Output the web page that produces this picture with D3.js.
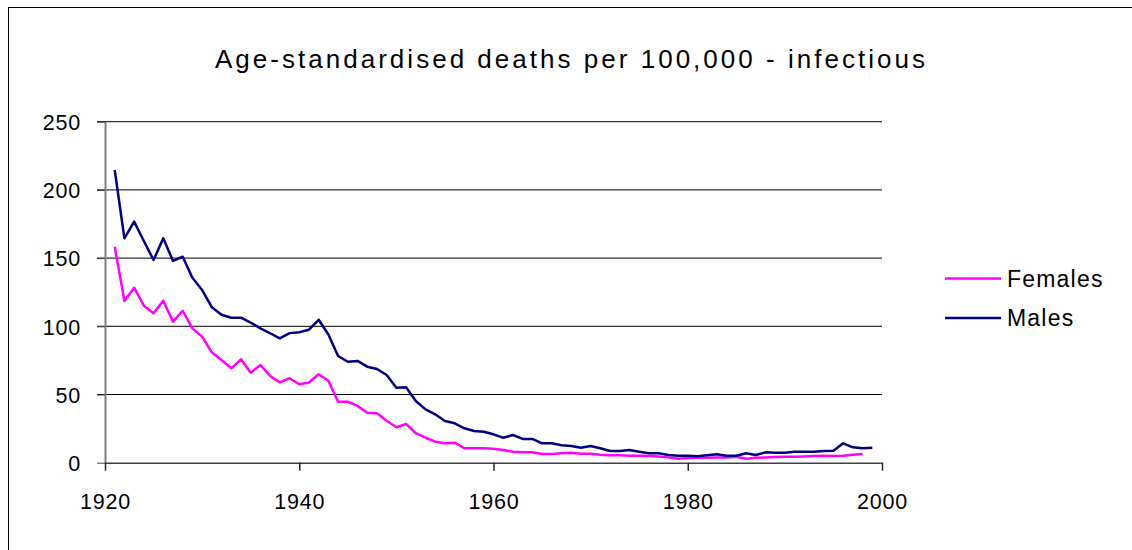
<!DOCTYPE html>
<html>
  <head>
    <title>Age-standardised deaths per 100,000 - infectious</title>
    <meta charset="UTF-8">
    <script src="https://d3js.org/d3.v7.min.js"></script>
  </head>
  <style type="text/css">
    html, body {
      margin: 0px;
      padding: 0px;
      background: #fff;
      overflow: hidden;
    }
    svg {
      display: block;
    }
    svg text {
      font-family: "Liberation Sans", Arial, sans-serif;
      fill: #000;
    }
  </style>
  <body>
    <div id="chart"></div>
    <script>
      // values, one per year
      const maleYears = d3.range(1921, 2000);
      const femaleYears = d3.range(1921, 1999);
      const males = [
        214.6, 164.5, 176.7, 162.5, 148.6, 164.5, 147.9, 151, 135.6, 126.6,
        114, 108.5, 106.3, 106.3, 102.7, 98.5, 94.9, 91.2, 95, 95.7,
        97.5, 104.8, 94, 78.2, 74, 74.6, 70.4, 68.7, 64.3, 55,
        55.3, 45.2, 39.1, 35.5, 30.6, 28.9, 25.2, 23.2, 22.7, 20.8,
        18.3, 20.3, 17.4, 17.4, 14.2, 14.2, 12.8, 12.2, 11, 12.2,
        10.6, 8.6, 8.6, 9.3, 8.1, 6.9, 6.9, 5.6, 5.1, 5.1,
        4.7, 5.4, 6.2, 5.1, 5.1, 6.9, 5.6, 7.6, 7.3, 7.3,
        8.1, 8.1, 8.1, 8.6, 8.8, 14.2, 11.3, 10.6, 11
      ];
      const females = [
        158.4, 118.5, 128.3, 115.1, 109.5, 118.8, 103.4, 111.4, 98.5, 92.4,
        80.9, 75.3, 69.2, 75.8, 66, 71.6, 63.6, 58.9, 61.9, 57.5,
        58.8, 64.8, 60.1, 44.7, 44.7, 41.6, 36.7, 36.2, 30.8, 26,
        28.4, 21.6, 18.3, 15.4, 14.2, 14.7, 10.6, 10.6, 10.6, 10.3,
        9.3, 8.1, 7.6, 7.6, 6.4, 6.4, 6.9, 7.3, 6.6, 6.6,
        5.9, 5.4, 5.4, 5.1, 5.1, 4.9, 4.6, 3.9, 2.9, 3.4,
        3.7, 3.7, 3.9, 3.9, 4.4, 2.9, 3.7, 3.9, 4.2, 4.4,
        4.4, 4.6, 4.9, 5.1, 4.9, 5.1, 5.9, 6.4
      ];
      const xTicks = [1920, 1940, 1960, 1980, 2000];
      const yTicks = [0, 50, 100, 150, 200, 250];
      const seriesNames = ['Females', 'Males'];
      const seriesColors = ['#ff00ff', '#000080'];

      const width = 1132, height = 550;
      const margin = { top: 121.7, right: 250, bottom: 87.3, left: 105 };

      const svg = d3.select('#chart').append('svg')
        .attr('width', width)
        .attr('height', height);

      // outer frame (only left and top edges show in the window)
      svg.append('rect')
        .attr('x', 8.5).attr('y', 7.5)
        .attr('width', 1300).attr('height', 700)
        .attr('fill', 'none')
        .attr('stroke', '#000');

      svg.append('text')
        .attr('x', 570)
        .attr('y', 68)
        .attr('text-anchor', 'middle')
        .attr('style', 'font-size: 26px;')
        .attr('textLength', 710)
        .attr('lengthAdjust', 'spacing')
        .text('Age-standardised deaths per 100,000 - infectious');

      const x = d3.scaleLinear()
        .domain([1920, 2000])
        .range([margin.left, width - margin.right]);
      const y = d3.scaleLinear()
        .domain([0, 250])
        .range([height - margin.bottom, margin.top]);

      // horizontal gridlines, running through the tick on the left
      svg.append('g').selectAll('line')
        .data(yTicks.filter(d => d > 0)).enter().append('line')
        .attr('x1', margin.left - 8).attr('x2', x(2000))
        .attr('y1', d => y(d)).attr('y2', d => y(d))
        .attr('stroke', '#000')
        .attr('stroke-width', 1);

      // y axis
      const yAxis = svg.append('g')
        .attr('transform', `translate(${margin.left},0)`)
        .call(d3.axisLeft(y).tickValues(yTicks).tickSize(8).tickPadding(16).tickSizeOuter(0));
      yAxis.select('.domain').attr('stroke', '#808080').attr('stroke-width', 2);
      yAxis.selectAll('.tick line').attr('stroke', '#404040');
      yAxis.selectAll('.tick text')
        .attr('style', 'font-size: 21.5px; letter-spacing: 0.8px;')
        .attr('dy', '0.36em');

      // x axis
      const xAxis = svg.append('g')
        .attr('transform', `translate(0,${y(0)})`)
        .call(d3.axisBottom(x).tickValues(xTicks).tickFormat(d3.format('d')).tickSize(8).tickPadding(31).tickSizeOuter(0));
      xAxis.select('.domain').attr('stroke', '#404040').attr('stroke-width', 1.5);
      xAxis.selectAll('.tick line').attr('stroke', '#202020').attr('stroke-width', 1.5);
      xAxis.selectAll('.tick text')
        .attr('style', 'font-size: 21.5px; letter-spacing: 0.8px;')
        .attr('dy', '0.36em');

      const line = d3.line()
        .x(d => x(d[0]))
        .y(d => y(d[1]));

      const series = [
        femaleYears.map((yr, i) => [yr, females[i]]),
        maleYears.map((yr, i) => [yr, males[i]])
      ];

      svg.append('g').selectAll('path')
        .data(series).enter().append('path')
        .attr('d', line)
        .attr('fill', 'none')
        .attr('stroke', (d, i) => seriesColors[i])
        .attr('stroke-width', 2.5)
        .attr('stroke-linejoin', 'round');

      // legend
      const legend = svg.append('g')
        .attr('transform', 'translate(945, 278.5)');
      legend.selectAll('g')
        .data(seriesNames).enter().append('g')
        .attr('transform', (d, i) => `translate(0, ${i * 39.5})`)
        .each(function(d, i) {
          d3.select(this).append('line')
            .attr('x2', 56)
            .attr('stroke', seriesColors[i])
            .attr('stroke-width', 2.5);
          d3.select(this).append('text')
            .attr('x', 62)
            .attr('dy', '0.36em')
            .attr('style', 'font-size: 23px; letter-spacing: 1.2px;')
            .text(d);
        });
    </script>
  </body>
</html>
